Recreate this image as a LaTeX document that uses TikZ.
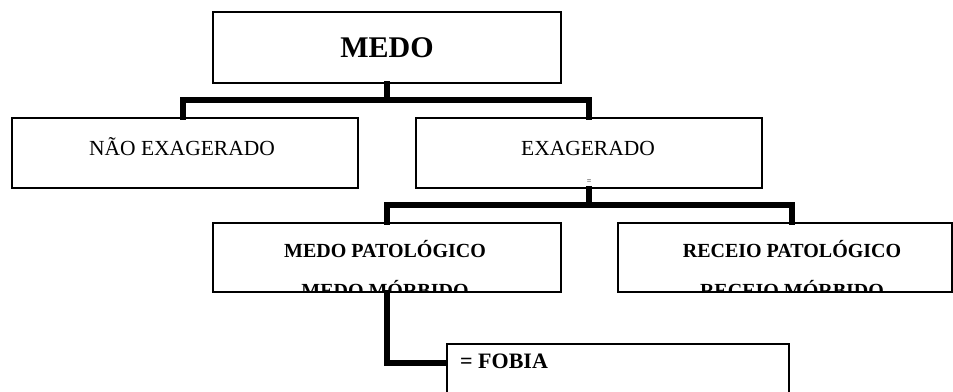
\documentclass[tikz,border=0pt]{standalone}
\usepackage{fontspec}
\setmainfont{Liberation Serif}
\usetikzlibrary{calc}
\tikzset{
  box/.style={draw=black, line width=1.4pt, rectangle, inner sep=0pt, fill=white},
  conn/.style={draw=black, line width=5.2pt, line join=miter, line cap=rect},
  txt/.style={inner sep=0pt, text=black},
  big/.style={txt, font=\fontsize{30}{36}\selectfont\bfseries},
  reg/.style={txt, font=\fontsize{21.5}{26}\selectfont},
  bld/.style={txt, font=\fontsize{20}{24}\selectfont\bfseries},
  fob/.style={txt, font=\fontsize{22}{26}\selectfont\bfseries},
  tiny/.style={txt, font=\fontsize{8}{9}\selectfont}
}
\begin{document}
\begin{tikzpicture}[x=1pt, y=-1pt]
\useasboundingbox[fill=white] (0,0) rectangle (953,391);

% boxes
\node[box, minimum width=348pt, minimum height=71pt] (medo) at (387,47.5) {};
\node[box, minimum width=346pt, minimum height=70pt] (nao) at (185,153) {};
\node[box, minimum width=346pt, minimum height=70pt] (exag) at (589,153) {};
\node[box, minimum width=348pt, minimum height=69pt] (mpat) at (387,257.5) {};
\node[box, minimum width=334pt, minimum height=69pt] (rpat) at (785,257.5) {};
\node[box, minimum width=342pt, minimum height=66pt] (fobia) at (618,377) {};

% texts
\node[big] (tmedo) at (387,47.5) {MEDO};
\node[reg, anchor=base] (tnao) at (182,155) {NÃO EXAGERADO};
\node[reg, anchor=base] (texag) at (588,155) {EXAGERADO};
\node[tiny] (teq) at (589,182) {=};
\node[bld, anchor=base] (tmpat) at (385,257) {MEDO PATOLÓGICO};
\node[bld, anchor=base] (trpat) at (792,257) {RECEIO PATOLÓGICO};
\begin{scope}
  \clip (mpat.north west) rectangle (mpat.south east);
  \node[bld, anchor=base] (tmmor) at (385,297) {MEDO MÓRBIDO};
\end{scope}
\begin{scope}
  \clip (rpat.north west) rectangle (rpat.south east);
  \node[bld, anchor=base] (trmor) at (792,297) {RECEIO MÓRBIDO};
\end{scope}
\node[fob, anchor=base west] (tfob) at (460,368) {= FOBIA};

% connectors
\coordinate (b1) at (387,100);
\coordinate (b2) at (589,205);
\draw[conn] (medo.south) -- (b1);
\draw[conn] ([xshift=-2pt]nao.north) |- (b1) -| (exag.north);
\draw[conn] (exag.south) -- (b2);
\draw[conn] (mpat.north) |- (b2) -| ([xshift=7pt]rpat.north);
\draw[conn] (mpat.south) |- ([xshift=-2pt,yshift=14pt]fobia.west);
\end{tikzpicture}
\end{document}
